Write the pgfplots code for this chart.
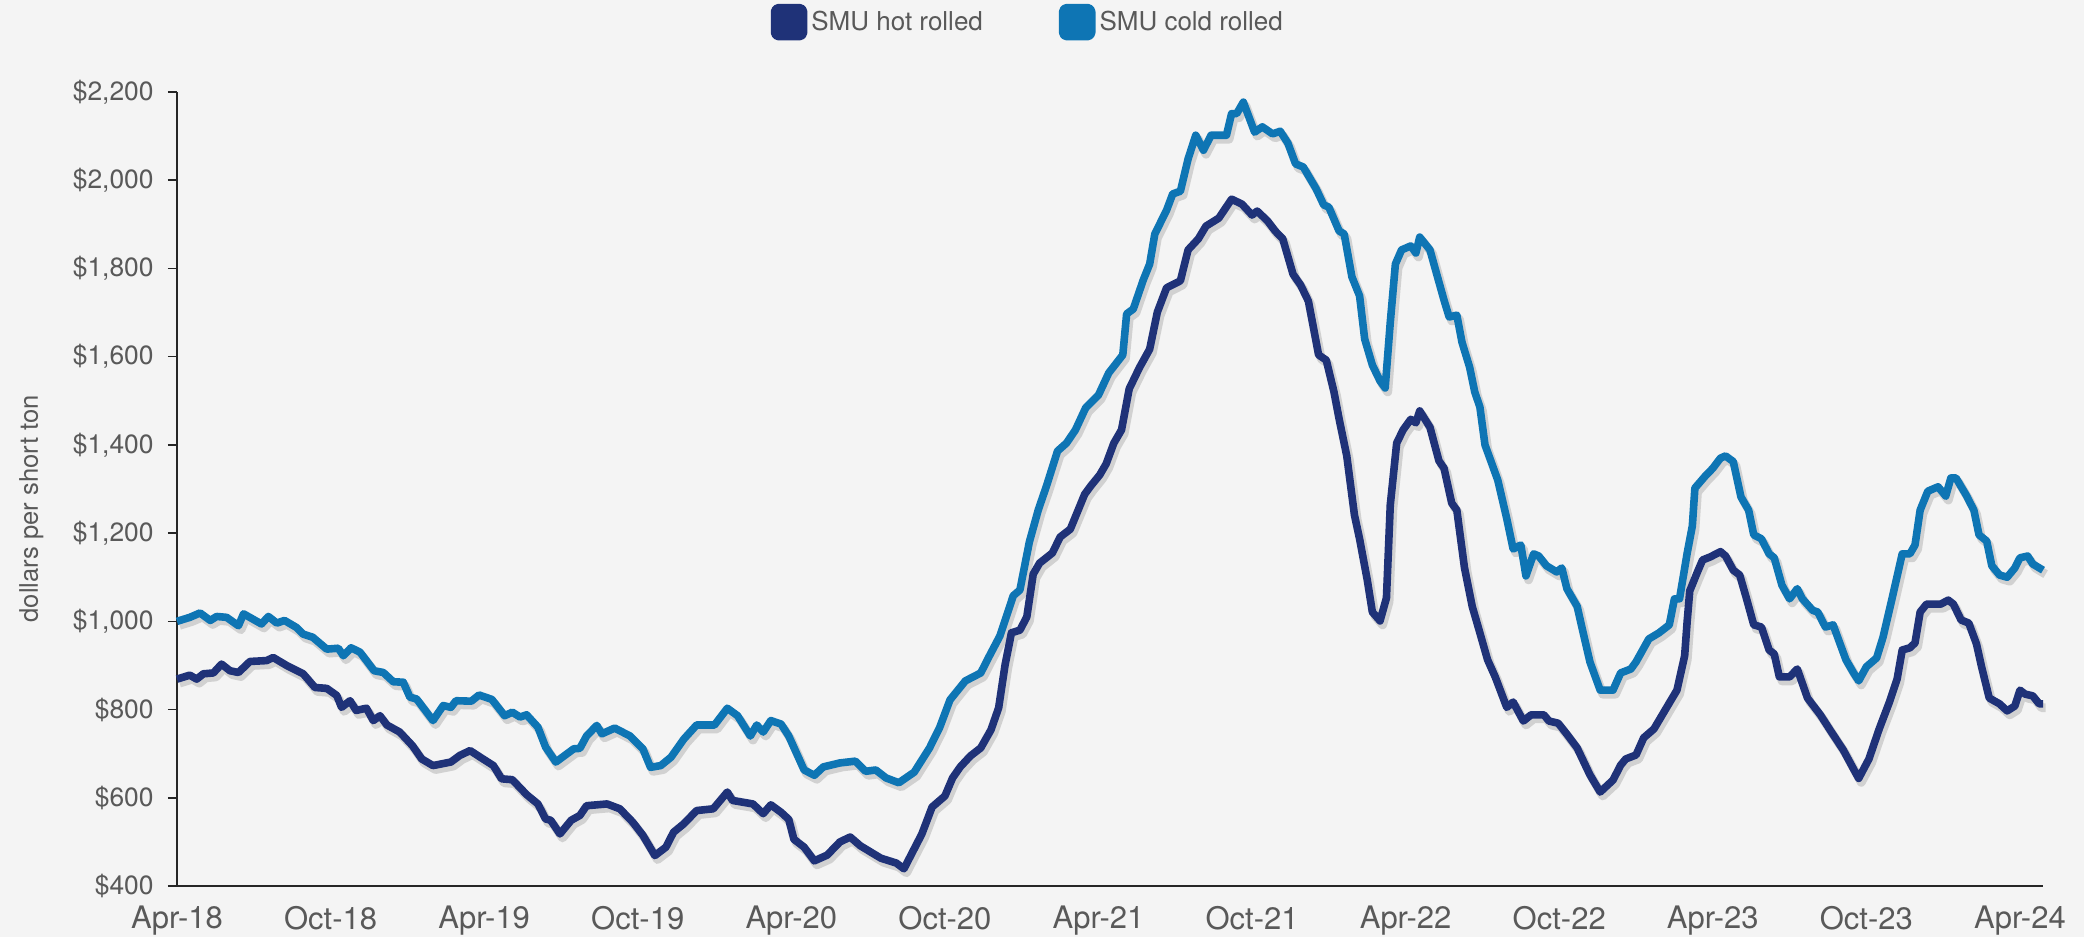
\documentclass[border=0pt]{standalone}
\usepackage{fontspec}
\setmainfont{TeX Gyre Heros}
\usepackage{pgfplots}
\pgfplotsset{compat=1.18}
\usepackage{pgfplotstable}
\definecolor{hot}{RGB}{31,50,120}
\definecolor{cold}{RGB}{14,117,180}
\definecolor{bg}{RGB}{244,244,244}
\definecolor{txt}{RGB}{89,89,89}

% months since Apr-2018, dollars per short ton
\pgfplotstableread{
m v
0 869
0.5 878
0.77 869
1.03 881
1.42 883
1.74 903
2.07 888
2.4 884
2.85 909
3.5 911
3.76 918
4.28 900
4.93 881
5.39 850
5.85 848
6.24 832
6.43 805
6.76 820
7.0 798
7.4 803
7.67 775
7.93 786
8.2 765
8.7 749
9.2 718
9.56 688
10.0 673
10.7 681
11.05 696
11.45 707
11.9 690
12.36 673
12.68 643
13.1 641
13.66 607
14.1 586
14.4 552
14.6 549
14.96 518
15.4 549
15.74 560
16.0 582
16.8 586
17.3 575
17.8 545
18.2 515
18.67 469
19.1 488
19.4 522
19.8 541
20.3 571
20.95 575
21.5 613
21.7 594
22.5 586
22.9 564
23.2 584
23.6 567
23.9 551
24.1 506
24.5 488
24.9 457
25.4 470
25.9 500
26.3 511
26.7 491
27.5 463
28.1 452
28.4 439
29.1 518
29.5 579
30.0 604
30.3 645
30.6 670
31.0 695
31.4 713
31.8 754
32.1 804
32.35 901
32.6 974
32.93 980
33.2 1010
33.45 1107
33.7 1132
34.2 1155
34.5 1191
34.9 1209
35.46 1288
35.7 1307
36.05 1332
36.3 1357
36.6 1404
36.9 1434
37.2 1527
37.6 1575
38.0 1617
38.3 1701
38.66 1756
39.2 1772
39.5 1842
39.9 1867
40.2 1896
40.7 1914
41.2 1957
41.6 1946
42.0 1921
42.2 1930
42.6 1908
42.9 1885
43.2 1867
43.6 1787
43.9 1762
44.2 1726
44.6 1604
44.9 1592
45.2 1520
45.4 1459
45.7 1375
46.0 1241
46.2 1187
46.5 1094
46.7 1021
47.0 1001
47.25 1053
47.4 1264
47.65 1404
47.9 1434
48.2 1458
48.4 1450
48.55 1477
48.95 1440
49.3 1364
49.5 1347
49.8 1268
50.0 1252
50.3 1121
50.6 1034
50.9 974
51.2 913
51.5 874
51.95 805
52.2 817
52.6 774
52.9 788
53.4 788
53.6 774
53.96 769
54.3 744
54.7 713
55.2 652
55.6 613
56.1 640
56.4 674
56.6 688
57.0 697
57.3 736
57.7 756
58.2 805
58.6 844
58.9 922
59.0 1001
59.1 1069
59.4 1112
59.6 1139
59.9 1146
60.3 1158
60.5 1148
60.8 1116
61.05 1105
61.3 1055
61.6 992
61.9 987
62.2 935
62.4 926
62.6 874
63.0 874
63.3 892
63.7 826
64.2 788
64.6 752
65.1 708
65.5 665
65.7 644
66.1 688
66.5 756
66.9 817
67.2 869
67.4 935
67.7 940
67.9 951
68.1 1021
68.35 1039
68.9 1039
69.2 1048
69.4 1039
69.7 1003
70.0 996
70.3 949
70.5 897
70.8 826
71.2 813
71.5 797
71.8 808
72.0 844
72.2 835
72.5 831
72.75 813
72.9 813
}\hotdata

\pgfplotstableread{
m v
0 1000
0.5 1009
0.9 1019
1.3 1002
1.55 1011
1.94 1009
2.4 990
2.6 1017
3.3 994
3.57 1011
3.9 996
4.2 1002
4.67 986
4.93 971
5.3 964
5.85 937
6.3 939
6.5 922
6.8 940
7.15 930
7.7 888
8.06 884
8.45 863
8.84 862
9.1 828
9.36 824
10.0 775
10.4 809
10.7 805
10.9 820
11.5 819
11.8 833
12.3 823
12.8 786
13.1 794
13.4 783
13.66 788
14.1 760
14.4 715
14.8 681
15.5 711
15.74 712
16.0 740
16.4 764
16.6 745
17.1 758
17.7 740
18.2 711
18.5 669
18.9 673
19.3 692
19.8 733
20.3 765
21.0 765
21.5 803
21.9 786
22.4 740
22.65 765
22.9 749
23.2 775
23.6 767
23.9 740
24.5 663
24.9 651
25.25 670
25.9 679
26.5 683
26.9 660
27.3 663
27.7 645
28.2 634
28.8 658
29.4 713
29.8 760
30.2 822
30.8 865
31.4 883
31.76 924
32.15 967
32.67 1058
32.93 1071
33.3 1180
33.65 1253
33.97 1307
34.4 1386
34.75 1404
35.1 1434
35.5 1484
36.0 1513
36.4 1563
36.95 1604
37.1 1697
37.36 1708
37.75 1774
38.0 1810
38.2 1878
38.66 1932
38.9 1969
39.2 1975
39.5 2048
39.8 2102
40.1 2068
40.4 2102
41.0 2102
41.2 2151
41.4 2151
41.66 2177
42.1 2109
42.4 2121
42.8 2105
43.1 2111
43.4 2084
43.7 2037
44.0 2030
44.5 1981
44.8 1944
45.0 1939
45.4 1885
45.6 1878
45.9 1781
46.2 1738
46.4 1640
46.7 1581
47.0 1545
47.2 1529
47.4 1678
47.6 1810
47.84 1842
48.2 1851
48.4 1835
48.55 1871
48.95 1842
49.2 1790
49.5 1728
49.7 1690
50.0 1694
50.2 1633
50.5 1576
50.7 1520
50.9 1486
51.1 1400
51.6 1320
51.95 1233
52.2 1164
52.5 1173
52.7 1103
53.0 1153
53.2 1148
53.5 1126
53.9 1112
54.1 1121
54.3 1074
54.7 1034
54.9 983
55.2 908
55.6 844
56.1 844
56.4 883
56.8 892
57.0 908
57.5 960
57.9 974
58.3 992
58.5 1051
58.7 1051
59.0 1155
59.2 1216
59.3 1302
59.7 1329
60.0 1347
60.3 1370
60.5 1375
60.8 1362
61.1 1282
61.4 1252
61.6 1196
61.9 1187
62.2 1153
62.4 1144
62.7 1082
63.0 1051
63.3 1074
63.5 1051
63.9 1025
64.1 1021
64.4 987
64.7 992
65.2 913
65.5 883
65.7 865
66.0 897
66.4 917
66.65 964
67.0 1051
67.4 1153
67.7 1153
67.9 1173
68.1 1252
68.4 1295
68.8 1305
69.1 1284
69.3 1325
69.5 1325
69.9 1286
70.2 1252
70.4 1196
70.7 1182
70.9 1126
71.2 1105
71.5 1100
71.8 1121
72.0 1144
72.3 1148
72.5 1130
72.9 1116
}\colddata

\begin{document}
\begin{tikzpicture}
\fill[bg] (-88.5pt,-25.5pt) rectangle (953.5pt,443pt);
\begin{axis}[
  scale only axis,
  width=933pt, height=397pt,
  xmin=0, xmax=72.9, ymin=400, ymax=2200,
  axis x line*=bottom, axis y line*=left,
  axis line style={-, black!85, line width=0.8pt},
  xtick={0,6,...,72},
  xticklabels={Apr-18,Oct-18,Apr-19,Oct-19,Apr-20,Oct-20,Apr-21,Oct-21,Apr-22,Oct-22,Apr-23,Oct-23,Apr-24},
  ytick={400,600,...,2200},
  yticklabels={{\$400},{\$600},{\$800},{\$1,000},{\$1,200},{\$1,400},{\$1,600},{\$1,800},{\$2,000},{\$2,200}},
  tick align=outside,
  major tick length=4.5pt,
  tick style={black!85, line width=0.8pt},
  major x tick style={draw=none},
  xticklabel style={font=\fontsize{15.5}{18}\selectfont, text=txt, anchor=north, inner sep=0pt, yshift=-5.5pt},
  yticklabel style={font=\fontsize{13.2}{15}\selectfont, text=txt, anchor=east, inner sep=0pt, xshift=-7pt},
  ylabel={dollars per short ton},
  ylabel style={at={(axis description cs:-0.078,0.475)}, anchor=center, font=\fontsize{12.8}{15}\selectfont, text=txt},
  legend columns=2,
  legend style={draw=none, fill=none, at={(axis description cs:0.4565,1.088)}, anchor=center,
    font=\fontsize{13}{15}\selectfont, text=txt,
    /tikz/every even column/.append style={column sep=36pt}},
  legend image code/.code={\fill[#1, rounded corners=2pt] (0pt,-7.25pt) rectangle (14.5pt,7.25pt);},
  clip=false,
]
\addplot[black, opacity=0.14, line width=4.4pt, line join=round, xshift=1.3pt, yshift=-2pt, forget plot] table[x=m,y=v]{\colddata};
\addplot[black, opacity=0.14, line width=4.4pt, line join=round, xshift=1.3pt, yshift=-2pt, forget plot] table[x=m,y=v]{\hotdata};
\addplot[hot, line width=3.8pt, line join=round, mark=none] table[x=m,y=v]{\hotdata};
\addlegendentry{SMU hot rolled}
\addplot[cold, line width=3.8pt, line join=round, mark=none] table[x=m,y=v]{\colddata};
\addlegendentry{SMU cold rolled}
\end{axis}
\pgfresetboundingbox
\path[use as bounding box] (-88.5pt,-25.5pt) rectangle (953.5pt,443pt);
\end{tikzpicture}
\end{document}
